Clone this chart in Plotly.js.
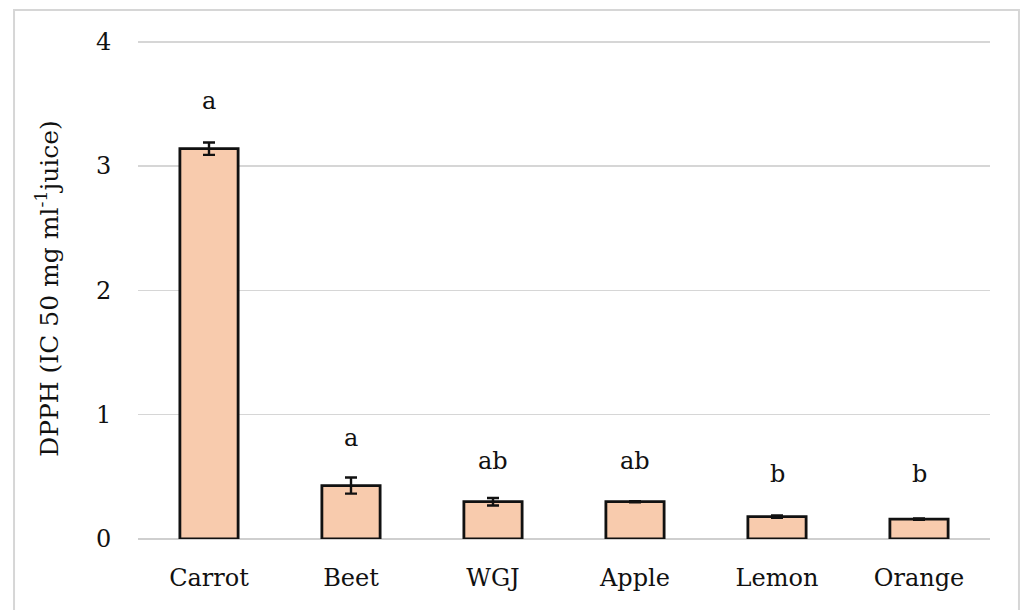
<!DOCTYPE html>
<html>
<head>
<meta charset="utf-8">
<script src="https://cdn.plot.ly/plotly-3.0.1.min.js"></script>
<style>html,body{margin:0;padding:0;background:#fff}#chart{width:1022px;height:610px}</style>
</head>
<body>
<div id="chart"></div>
<script>
const categories = ["Carrot", "Beet", "WGJ", "Apple", "Lemon", "Orange"];
const values = [3.14, 0.43, 0.30, 0.30, 0.18, 0.16];
const errors = [0.05, 0.065, 0.03, 0.005, 0.01, 0.006];
const letters = ["a", "a", "ab", "ab", "b", "b"];
const letterY = [3.52, 0.81, 0.63, 0.63, 0.52, 0.52];
const yTicks = [0, 1, 2, 3, 4];

const font = "'DejaVu Serif', 'Liberation Serif', serif";

const trace = {
  type: "bar",
  x: categories,
  y: values,
  width: 0.41,
  marker: {color: "#F8CBAD", line: {color: "#111", width: 2.8}},
  error_y: {type: "data", array: errors, visible: true, color: "#111", thickness: 2.4, width: 6},
  hoverinfo: "skip"
};

const annotations = categories.map((c, i) => ({
  x: c, y: letterY[i], xref: "x", yref: "y", text: letters[i], showarrow: false,
  font: {family: font, size: 24, color: "#111"}
}));

const layout = {
  width: 1022, height: 610,
  paper_bgcolor: "#fff", plot_bgcolor: "#fff",
  margin: {l: 138, r: 32, t: 38, b: 71},
  showlegend: false,
  font: {family: font, color: "#111"},
  xaxis: {
    type: "category", range: [-0.5, 5.5], showgrid: false, zeroline: false, showline: false,
    ticks: "outside", ticklen: 17, tickcolor: "rgba(0,0,0,0)",
    tickfont: {family: font, size: 24, color: "#111"}
  },
  yaxis: {
    range: [0, 4.03], tickvals: yTicks, showgrid: true, gridcolor: "#d6d6d6", gridwidth: 1.6,
    zeroline: true, zerolinecolor: "#cfcfcf", zerolinewidth: 2, showline: false,
    ticks: "outside", ticklen: 21, tickcolor: "rgba(0,0,0,0)",
    tickfont: {family: font, size: 24, color: "#111"},
    title: {text: "DPPH (IC 50 mg ml<sup>-1</sup>juice)", font: {family: font, size: 25, color: "#111"}, standoff: 30}
  },
  annotations: annotations,
  shapes: [{type: "rect", xref: "paper", yref: "paper", x0: -0.1455, x1: 1.034, y0: 1.0559, y1: -0.2, line: {color: "#d6d6d6", width: 2}, fillcolor: "rgba(0,0,0,0)", layer: "below"}]
};

Plotly.newPlot("chart", [trace], layout, {displayModeBar: false, staticPlot: true});
</script>
</body>
</html>
